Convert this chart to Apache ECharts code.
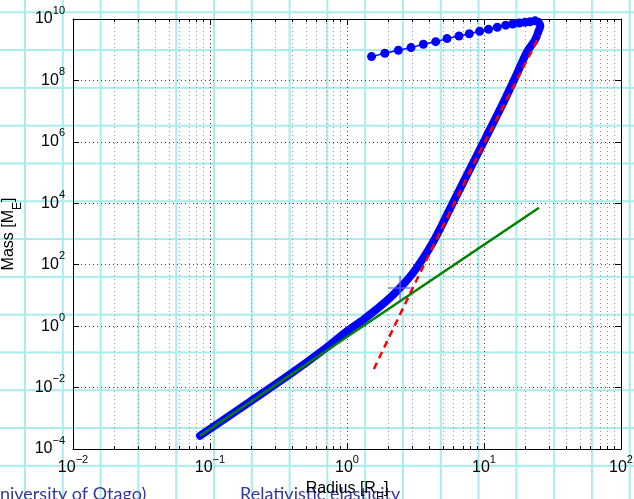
<!DOCTYPE html>
<html>
<head>
    <meta charset="utf-8">
    <title>Mass - Radius</title>
    <script src="https://cdn.jsdelivr.net/npm/echarts@6/dist/echarts.min.js"></script>
    <style>
        html, body { margin: 0; padding: 0; background: #fff; }
        /* cyan squared paper behind the figure */
        #chart1 {
            width: 634px; height: 499px;
            background-image: linear-gradient(to right, #a8ecec 2px, transparent 2px),
                              linear-gradient(to bottom, #a8ecec 2px, transparent 2px);
            background-size: 37.8px 37.8px;
            background-position: 24px 11.3px;
        }
    </style>
</head>
<body>
<div id="chart1"></div>

<script type="text/javascript">
    // ---- data (radius in R_E, mass in M_E) ----
    // dense branch (thick blue)
    var blueR = [0.0845, 0.2, 0.4, 0.7, 1.0, 1.3, 1.7, 2.1, 2.44, 2.8, 3.2, 3.7, 4.23, 5.0, 5.91, 8.75, 11.0, 14.0, 17.5, 20.5, 23.6, 25.2, 25.8, 25.0];
    var blueM = [2.7e-4, 3.7e-3, 0.031, 0.193, 0.68, 1.56, 4.0, 9.1, 17.7, 34.8, 75.5, 197, 530, 2.2e3, 1.0e4, 3.2e5, 2.45e6, 2.1e7, 1.74e8, 8.2e8, 2.1e9, 4.4e9, 6.0e9, 8.0e9];

    // return branch (blue dots)
    var backR = [23.6, 21.7, 19.9, 18.1, 16.2, 14.4, 12.5, 10.8, 9.3, 7.81, 6.57, 5.37, 4.44, 3.61, 2.93, 2.37, 1.89, 1.51];
    var backM = [8.7e9, 8.1e9, 7.8e9, 7.4e9, 6.9e9, 6.3e9, 5.4e9, 4.6e9, 4.0e9, 3.3e9, 2.8e9, 2.3e9, 1.83e9, 1.5e9, 1.17e9, 9.6e8, 7.67e8, 5.96e8];

    // green line
    var greenR = [0.0845, 25.2];
    var greenM = [2.7e-4, 7.2e3];

    // red dashed line
    var redR = [1.57, 2.97, 4.36, 8.9, 25.6];
    var redM = [0.040, 15.1, 500, 3.2e5, 3.0e9];

    // blue cross
    var crossR = [2.44];
    var crossM = [17.5];

    // x minor grid positions (2..9 in each decade)
    var xMinor = [0.02, 0.03, 0.04, 0.05, 0.06, 0.07, 0.08, 0.09,
                  0.2, 0.3, 0.4, 0.5, 0.6, 0.7, 0.8, 0.9,
                  2, 3, 4, 5, 6, 7, 8, 9,
                  20, 30, 40, 50, 60, 70, 80, 90];

    function pairs(a, b) {
        return a.map(function (v, i) { return [v, b[i]]; });
    }

    function pow10(v) {
        var e = Math.round(Math.log10(v));
        return '{b|10}{s|' + (e < 0 ? '\u2212' + (-e) : e) + '}';
    }

    var FONT = 'Liberation Sans';
    // token y = top + fontHeight/2 ('top'), or lineTop + lineHeight - fontHeight/2 ('bottom')
    var labelRich = {
        b: { fontSize: 16, lineHeight: 28, verticalAlign: 'middle', color: '#000', fontFamily: FONT },
        s: { fontSize: 11, lineHeight: 28, verticalAlign: 'top', color: '#000', fontFamily: FONT }
    };
    var nameRich = {
        n: { fontSize: 16, lineHeight: 23, verticalAlign: 'top', color: '#000', fontFamily: FONT },
        sub: { fontSize: 12, lineHeight: 23, verticalAlign: 'bottom', color: '#000', fontFamily: FONT }
    };
    var nameStyle = { fontSize: 16, fontFamily: FONT, color: '#000', rich: nameRich };

    var boxLine = { show: true, lineStyle: { color: '#000', width: 1 } };
    var majorSplit = { show: true, lineStyle: { color: '#444', width: 1, type: [1, 3] } };

    var myChart1 = echarts.init(document.getElementById('chart1'));
    myChart1.setOption({
        animation: false,
        backgroundColor: 'transparent',
        textStyle: { fontFamily: FONT },
        grid: [
            { left: 73, top: 19, right: 13, bottom: 50, outerBoundsMode: 'none' },
            { left: 73, top: 19, right: 13, bottom: 50, outerBoundsMode: 'none' }
        ],
        xAxis: [
            {
                gridIndex: 0, type: 'log', logBase: 10, min: 0.01, max: 100, interval: 1, position: 'bottom',
                axisLine: boxLine,
                axisTick: { show: true, inside: true, length: 6, lineStyle: { color: '#000' } },
                axisLabel: { show: true, margin: 5, fontSize: 16, fontFamily: FONT, color: '#000',
                    formatter: pow10, rich: labelRich, showMinLabel: true, showMaxLabel: true },
                splitLine: majorSplit,
                name: '{n|Radius [R}{sub|E}{n|]}', nameLocation: 'middle', nameGap: 24,
                nameTextStyle: nameStyle
            },
            {
                gridIndex: 0, type: 'log', logBase: 10, min: 0.01, max: 100, interval: 1, position: 'top',
                axisLine: boxLine,
                axisTick: { show: true, inside: true, length: 6, lineStyle: { color: '#000' } },
                axisLabel: { show: false },
                splitLine: { show: false }
            },
            {
                gridIndex: 1, type: 'log', logBase: 10, min: 0.01, max: 100, position: 'bottom',
                axisLine: { show: false },
                axisTick: { show: true, inside: true, length: 3, customValues: xMinor, lineStyle: { color: '#000' } },
                axisLabel: { show: false },
                splitLine: { show: true, lineStyle: { color: '#999', width: 1, type: [1, 3] } }
            },
            {
                gridIndex: 1, type: 'log', logBase: 10, min: 0.01, max: 100, position: 'top',
                axisLine: { show: false },
                axisTick: { show: true, inside: true, length: 3, customValues: xMinor, lineStyle: { color: '#000' } },
                axisLabel: { show: false },
                splitLine: { show: false }
            }
        ],
        yAxis: [
            {
                gridIndex: 0, type: 'log', logBase: 10, min: 1e-4, max: 1e10, interval: 2, position: 'left',
                axisLine: boxLine,
                axisTick: { show: true, inside: true, length: 6, lineStyle: { color: '#000' } },
                axisLabel: { show: true, margin: 8, fontSize: 16, fontFamily: FONT, color: '#000',
                    formatter: pow10, rich: labelRich, showMinLabel: true, showMaxLabel: true },
                splitLine: majorSplit,
                name: '{n|Mass [M}{sub|E}{n|]}', nameLocation: 'middle', nameGap: 42,
                nameTextStyle: nameStyle
            },
            {
                gridIndex: 0, type: 'log', logBase: 10, min: 1e-4, max: 1e10, interval: 2, position: 'right',
                axisLine: boxLine,
                axisTick: { show: true, inside: true, length: 6, lineStyle: { color: '#000' } },
                axisLabel: { show: false },
                splitLine: { show: false }
            },
            {
                gridIndex: 1, type: 'log', logBase: 10, min: 1e-4, max: 1e10, show: false
            }
        ],
        graphic: [
            {
                type: 'text', left: -13, top: 485, silent: true,
                style: { text: 'University of Otago)', fill: '#38389a', font: '18px Lato' }
            },
            {
                type: 'text', left: 240, top: 485, silent: true,
                style: { text: 'Relativistic elasticity', fill: '#38389a', font: '18px Lato' }
            }
        ],
        series: [
            {
                name: 'dense', type: 'line', xAxisIndex: 0, yAxisIndex: 0,
                data: pairs(blueR, blueM), showSymbol: false, symbol: 'none', smooth: 0.3,
                lineStyle: { color: '#0000ff', width: 8, cap: 'round', join: 'round' },
                z: 3
            },
            {
                name: 'back', type: 'line', xAxisIndex: 0, yAxisIndex: 0,
                data: pairs(backR, backM), symbol: 'circle', symbolSize: 9, showSymbol: true,
                itemStyle: { color: '#0000ff' },
                lineStyle: { color: '#0000ff', width: 1.5 },
                z: 3
            },
            {
                name: 'green', type: 'line', xAxisIndex: 0, yAxisIndex: 0,
                data: pairs(greenR, greenM), symbol: 'none',
                lineStyle: { color: '#008000', width: 2.5 },
                z: 4
            },
            {
                name: 'red', type: 'line', xAxisIndex: 0, yAxisIndex: 0,
                data: pairs(redR, redM), symbol: 'none',
                lineStyle: { color: '#ff0000', width: 2.5, type: [7, 5] },
                z: 5
            },
            {
                name: 'cross', type: 'scatter', xAxisIndex: 0, yAxisIndex: 0,
                data: pairs(crossR, crossM),
                symbol: 'path://M0,11.2L24,11.2L24,12.8L0,12.8Z M11.2,0L12.8,0L12.8,24L11.2,24Z',
                symbolSize: 24,
                itemStyle: { color: '#5a68ff' },
                z: 6
            }
        ]
    });
</script>
</body>
</html>
